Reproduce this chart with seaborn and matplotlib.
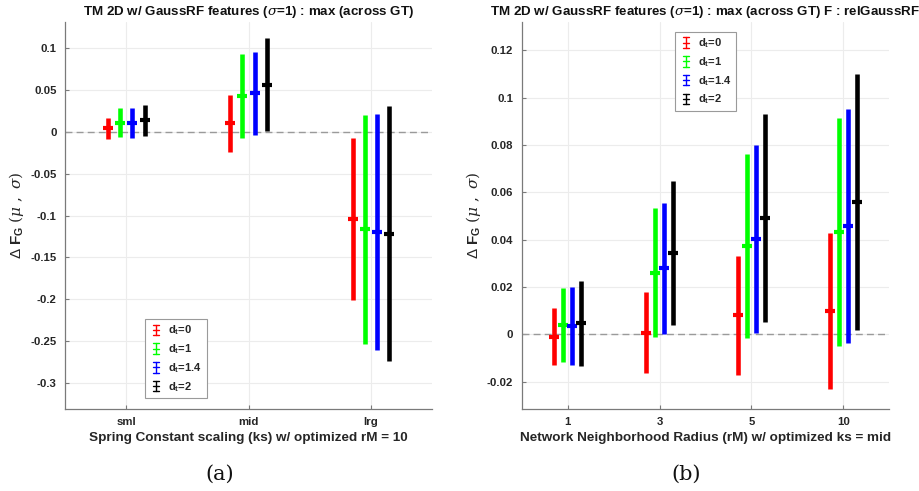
import numpy as np
import matplotlib
matplotlib.use("Agg")
import matplotlib.pyplot as plt
import seaborn as sns
from matplotlib.lines import Line2D
from matplotlib.legend_handler import HandlerBase
from matplotlib.container import ErrorbarContainer
from matplotlib.ticker import MultipleLocator, FuncFormatter

# ---- data: mean and std of Delta F_G per setting ----
dt_labels = ["0", "1", "1.4", "2"]
dt_colors = ["#ff0000", "#00ff00", "#0000ff", "#000000"]

ks_cats = ["sml", "mid", "lrg"]
ks_mean_dt0 = [0.004, 0.010, -0.104]
ks_mean_dt1 = [0.011, 0.043, -0.1165]
ks_mean_dt14 = [0.011, 0.0458, -0.120]
ks_mean_dt2 = [0.0135, 0.056, -0.1215]
ks_std_dt0 = [0.012, 0.034, 0.097]
ks_std_dt1 = [0.017, 0.050, 0.1365]
ks_std_dt14 = [0.018, 0.050, 0.141]
ks_std_dt2 = [0.019, 0.0555, 0.152]

rm_cats = ["1", "3", "5", "10"]
rm_mean_dt0 = [-0.001, 0.0007, 0.008, 0.010]
rm_mean_dt1 = [0.004, 0.026, 0.0374, 0.0432]
rm_mean_dt14 = [0.0035, 0.0279, 0.0404, 0.0458]
rm_mean_dt2 = [0.0046, 0.0345, 0.0493, 0.056]
rm_std_dt0 = [0.012, 0.017, 0.0252, 0.033]
rm_std_dt1 = [0.0157, 0.0272, 0.039, 0.0483]
rm_std_dt14 = [0.0163, 0.0276, 0.0397, 0.0493]
rm_std_dt2 = [0.018, 0.0305, 0.044, 0.054]

# ---- style ----
sns.set_theme(style="whitegrid")
plt.rcParams["font.family"] = ["Liberation Sans", "DejaVu Sans"]
plt.rcParams["mathtext.fontset"] = "custom"
plt.rcParams["mathtext.rm"] = "DejaVu Serif"
plt.rcParams["mathtext.it"] = "DejaVu Serif:italic"
plt.rcParams["mathtext.bf"] = "Liberation Sans:bold"

TXT = "#262626"


class VErrHandler(HandlerBase):
    """Legend glyph: a small vertical error bar with caps."""

    def create_artists(self, legend, orig_handle, xdescent, ydescent,
                       width, height, fontsize, trans):
        color = orig_handle.lines[0].get_color()
        cx = -xdescent + width / 2.0
        y0 = -ydescent - 0.2 * height
        y1 = -ydescent + 1.15 * height
        cw = 2.2
        arts = [
            Line2D([cx, cx], [y0, y1], color=color, lw=1.0),
            Line2D([cx - cw, cx + cw], [y0, y0], color=color, lw=1.0),
            Line2D([cx - cw, cx + cw], [y1, y1], color=color, lw=1.0),
            Line2D([cx - cw, cx + cw], [(y0 + y1) / 2] * 2, color=color, lw=1.0),
        ]
        for a in arts:
            a.set_transform(trans)
        return arts


def fmt_tick(v, _pos):
    v = round(v, 4)
    if abs(v) < 1e-9:
        return "0"
    return f"{v:g}"


def draw_panel(ax, cats, means, stds, ystep, ylim, title, xlabel, legend_loc, legend_anchor):
    pos = np.arange(len(cats))
    offsets = [-0.15, -0.05, 0.05, 0.15]
    ax.axhline(0, color="#9a9a9a", lw=1.0, ls=(0, (5, 3)), zorder=1)
    handles = []
    for m, s, c, off, lab in zip(means, stds, dt_colors, offsets, dt_labels):
        h = ax.errorbar(pos + off, m, yerr=s, fmt="_", ms=7.5, mew=3.0,
                        elinewidth=3.3, capsize=0, color=c, zorder=3,
                        label=r"$\mathbf{d_t}$=" + lab)
        handles.append(h)
    ax.set_xlim(-0.5, len(cats) - 0.5)
    ax.set_ylim(*ylim)
    ax.set_xticks(pos)
    ax.set_xticklabels(cats)
    ax.yaxis.set_major_locator(MultipleLocator(ystep))
    ax.yaxis.set_major_formatter(FuncFormatter(fmt_tick))
    ax.grid(True, color="#ececec", lw=0.8)
    ax.set_axisbelow(True)
    for side in ("top", "right"):
        ax.spines[side].set_visible(False)
    for side in ("left", "bottom"):
        ax.spines[side].set_color("#7a7a7a")
        ax.spines[side].set_linewidth(0.9)
    ax.tick_params(axis="both", direction="in", length=3, width=0.8, color="#7a7a7a",
                   labelsize=8.2, labelcolor=TXT, pad=6)
    ax.tick_params(axis="x", top=False, bottom=True)
    ax.tick_params(axis="y", left=True, right=False)
    for t in ax.get_xticklabels() + ax.get_yticklabels():
        t.set_fontweight("bold")
    ax.set_title(title, fontsize=9.6, fontweight="bold", color="#111111", pad=5)
    ax.set_xlabel(xlabel, fontsize=9.7, fontweight="bold", color=TXT, labelpad=3)
    ax.set_ylabel(r"Δ $\mathbf{F_G}$ $(\mu\ ,\ \sigma)$", fontsize=11, color=TXT, labelpad=3)
    leg = ax.legend(handles=handles, loc=legend_loc, bbox_to_anchor=legend_anchor,
                    handler_map={ErrorbarContainer: VErrHandler()},
                    prop={"size": 8, "weight": "bold"}, frameon=True, fancybox=False,
                    framealpha=1, edgecolor="#9a9a9a", handlelength=1.2, handletextpad=0.5,
                    labelspacing=0.45, borderpad=0.4, borderaxespad=0)
    leg.get_frame().set_linewidth(0.8)
    for t in leg.get_texts():
        t.set_color(TXT)


fig = plt.figure(figsize=(9.2, 4.91), dpi=100)
ax1 = fig.add_axes([0.0707, 0.167, 0.3989, 0.788])
ax2 = fig.add_axes([0.567, 0.167, 0.3996, 0.788])

draw_panel(ax1, ks_cats,
           [ks_mean_dt0, ks_mean_dt1, ks_mean_dt14, ks_mean_dt2],
           [ks_std_dt0, ks_std_dt1, ks_std_dt14, ks_std_dt2],
           0.05, (-0.331, 0.131),
           r"TM 2D w/ GaussRF features ($\sigma$=1) : max (across GT)",
           "Spring Constant scaling (ks) w/ optimized rM = 10",
           "lower left", (0.218, 0.028))

draw_panel(ax2, rm_cats,
           [rm_mean_dt0, rm_mean_dt1, rm_mean_dt14, rm_mean_dt2],
           [rm_std_dt0, rm_std_dt1, rm_std_dt14, rm_std_dt2],
           0.02, (-0.0316, 0.132),
           r"TM 2D w/ GaussRF features ($\sigma$=1) : max (across GT) F : relGaussRF",
           "Network Neighborhood Radius (rM) w/ optimized ks = mid",
           "upper left", (0.417, 0.975))

fig.text(0.239, 0.035, "(a)", ha="center", va="center", fontsize=15, family="DejaVu Serif", color="#111111")
fig.text(0.746, 0.035, "(b)", ha="center", va="center", fontsize=15, family="DejaVu Serif", color="#111111")

fig.savefig("out.png", dpi=100)
